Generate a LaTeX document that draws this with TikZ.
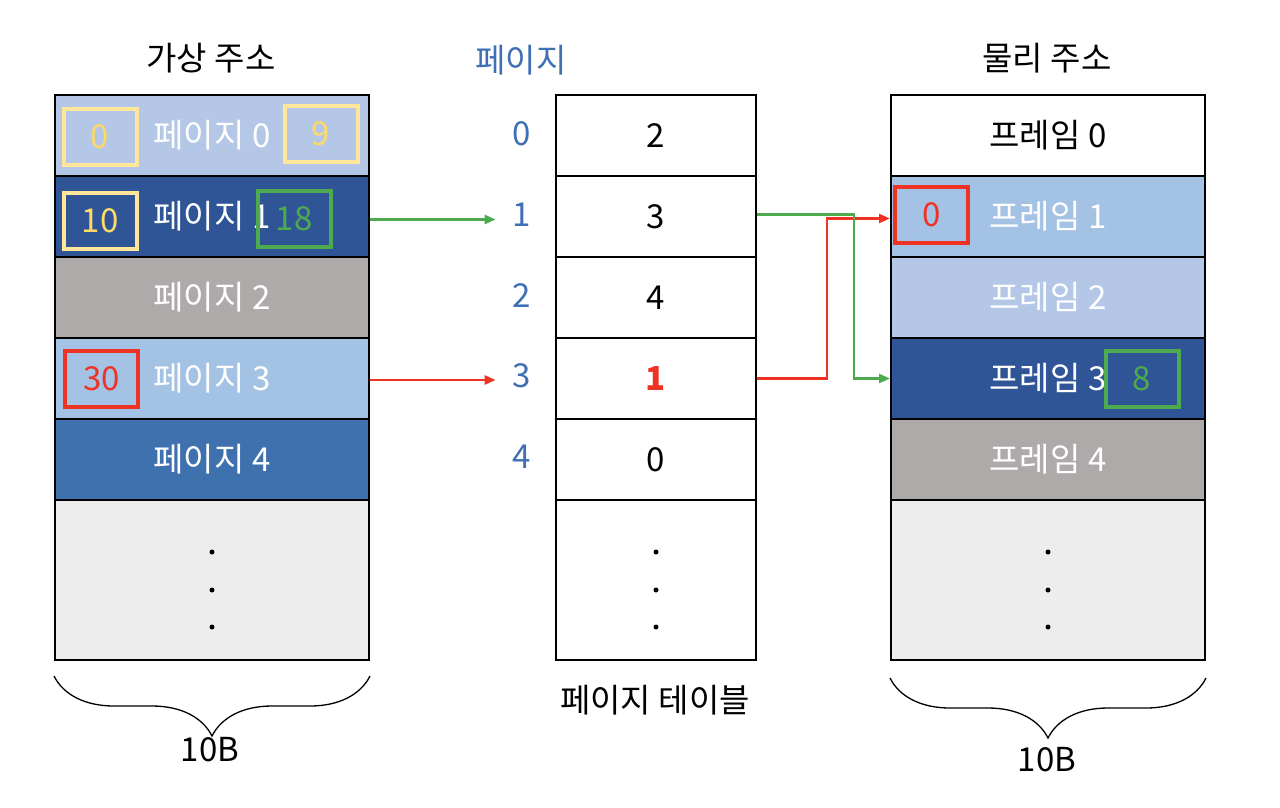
\documentclass[tikz,border=0pt]{standalone}
\usepackage{fontspec}
\setmainfont{Noto Sans CJK KR}
\usepackage{tikz}
\usetikzlibrary{arrows.meta,decorations.pathreplacing}

\definecolor{lav}{HTML}{B4C7E7}
\definecolor{navy}{HTML}{2F5597}
\definecolor{midgray}{HTML}{AEAAAA}
\definecolor{skyblue}{HTML}{A4C2E4}
\definecolor{midblue}{HTML}{3F71AF}
\definecolor{restgray}{HTML}{EDEDED}
\definecolor{pale}{HTML}{FFE699}
\definecolor{gold}{HTML}{FFD966}
\definecolor{grn}{HTML}{4EAA4F}
\definecolor{rd}{HTML}{EE3224}
\definecolor{pblue}{HTML}{3F6FB5}

\begin{document}
\begin{tikzpicture}[x=1pt,y=-1pt,
    txt/.style={font=\fontsize{33}{36}\selectfont},
    cell/.style={txt,draw,line width=2pt,minimum width=314pt,minimum height=81pt,inner sep=0pt,text=white},
    tcell/.style={cell,minimum width=200pt,fill=white,text=black},
    mark box/.style={txt,draw,line width=4pt,minimum width=73pt,minimum height=56pt,inner sep=0pt},
    plabel/.style={txt,text=pblue,inner sep=0pt},
    garrow/.style={draw=grn,line width=2.5pt,-{Triangle[length=11pt,width=9pt]}},
    rarrow/.style={draw=rd,line width=2.5pt,-{Triangle[length=11pt,width=9pt]}},
    size brace/.style={decorate,decoration={brace,mirror,amplitude=60pt},line width=1.3pt}]
  \fill[white] (0,0) rectangle (1280,807);
  \useasboundingbox (0,0) rectangle (1280,807);

  \node[txt] (vhead) at (211,58) {가상 주소};
  \node[txt,text=pblue] (phead) at (521,60) {페이지};
  \node[txt] (fhead) at (1047,58) {물리 주소};

  \node[cell,fill=lav] (v0) at (212,135.5) {페이지 0};
  \node[cell,fill=navy] (v1) at (212,216.5) {페이지 1};
  \node[cell,fill=midgray] (v2) at (212,297.5) {페이지 2};
  \node[cell,fill=skyblue] (v3) at (212,378.5) {페이지 3};
  \node[cell,fill=midblue] (v4) at (212,459.5) {페이지 4};
  \node[cell,fill=restgray,minimum height=160pt] (vrest) at (212,580) {};

  \node[mark box,draw=pale,text=gold] (va) at (100,137) {0};
  \node[mark box,draw=pale,text=gold] (vb) at (321,134) {9};
  \node[mark box,draw=pale,text=gold] (vc) at (100,221) {10};
  \node[mark box,draw=grn,text=grn] (vd) at (294,218.5) {18};
  \node[mark box,draw=rd,text=rd] (ve) at (101.5,379) {30};

  \foreach \i in {0,...,4}
    \node[plabel] (p\i) at (522,134+80.7*\i) {\i};

  \node[tcell] (t0) at (656,135.5) {2};
  \node[tcell] (t1) at (656,216.5) {3};
  \node[tcell] (t2) at (656,297.5) {4};
  \node[tcell,text=rd,font=\fontsize{33}{36}\selectfont\bfseries] (t3) at (656,378.5) {1};
  \node[tcell] (t4) at (656,459.5) {0};
  \node[tcell,minimum height=160pt] (trest) at (656,580) {};
  \node[txt] (thead) at (655,700) {페이지 테이블};

  \node[cell,fill=white,text=black] (f0) at (1048,135.5) {프레임 0};
  \node[cell,fill=skyblue] (f1) at (1048,216.5) {프레임 1};
  \node[cell,fill=lav] (f2) at (1048,297.5) {프레임 2};
  \node[cell,fill=navy] (f3) at (1048,378.5) {프레임 3};
  \node[cell,fill=midgray] (f4) at (1048,459.5) {프레임 4};
  \node[cell,fill=restgray,minimum height=160pt] (frest) at (1048,580) {};

  \node[mark box,draw=rd,text=rd] (fa) at (931.5,215) {0};
  \node[mark box,draw=grn,text=grn] (fb) at (1142,378.5) {8};

  \foreach \x in {212,656,1048}
    \foreach \y in {552,590,627}
      \fill (\x,\y) circle (2.5pt);

  \draw[garrow,shorten >=17pt] ([yshift=-3pt]v1.east) -- ([yshift=-3pt]v1.east -| p1.west);
  \draw[rarrow,shorten >=17pt] ([yshift=-1.5pt]v3.east) -- ([yshift=-1.5pt]v3.east -| p3.west);
  \draw[rarrow] (t3.east) -- ++(70,0) |- ([yshift=-2pt]f1.west);
  \draw[garrow] ([yshift=2pt]t1.east) -- ++(97,0) |- (f3.west);

  \draw[size brace] ([yshift=-15pt]vrest.south west) -- ([yshift=-15pt]vrest.south east);
  \draw[size brace] ([yshift=-17pt]frest.south west) -- ([yshift=-17pt]frest.south east);
  \node[txt] (vsize) at (210,750) {10B};
  \node[txt] (fsize) at (1047,760) {10B};
\end{tikzpicture}
\end{document}
